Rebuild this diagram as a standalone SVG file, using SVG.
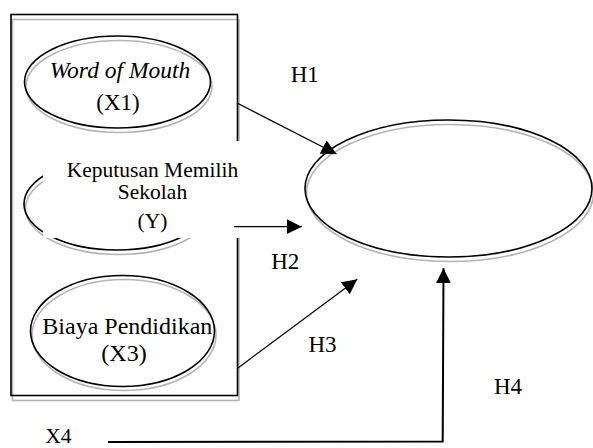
<svg xmlns="http://www.w3.org/2000/svg" width="593" height="448" viewBox="0 0 593 448">
<style>
.t{font-family:"Liberation Serif","Times New Roman",serif;fill:#000;text-anchor:middle}
.ol{fill:none;stroke:#000;stroke-width:1.6}
.sh{fill:none;stroke:#b4b4b4;stroke-width:1.6}
.c1{fill:none;stroke:#000;stroke-width:1.2}
.c2{fill:none;stroke:#000;stroke-width:2}
</style>
<defs>
<marker id="ah" markerUnits="userSpaceOnUse" markerWidth="16" markerHeight="16" refX="15" refY="7.5" orient="auto">
<path d="M0,0 L15,7.5 L0,15 z" fill="#000"/>
</marker>
</defs>
<rect width="593" height="448" fill="#fff"/>

<g id="frame">
<rect class="sh" x="12.5" y="19.5" width="226.5" height="381"/>
<rect class="ol" x="11" y="14.5" width="226.5" height="381"/>
</g>

<g id="x1">
<ellipse class="sh" cx="119" cy="86.5" rx="93" ry="46"/>
<ellipse class="ol" cx="117.5" cy="82" rx="93" ry="46"/>
<text class="t" x="120" y="78" font-size="23.5" font-style="italic">Word of Mouth</text>
<text class="t" x="118" y="110" font-size="23">(X1)</text>
</g>

<g id="y">
<ellipse class="sh" cx="118.5" cy="208.5" rx="93" ry="46"/>
<ellipse class="ol" cx="117" cy="204" rx="93" ry="46"/>
<rect x="43" y="141" width="198" height="97" fill="#fff"/>
<text class="t" x="152.5" y="176.5" font-size="21.5">Keputusan Memilih</text>
<text class="t" x="152.5" y="199" font-size="21.5">Sekolah</text>
<text class="t" x="152.5" y="227.5" font-size="21.5">(Y)</text>
</g>

<g id="x3">
<ellipse class="sh" cx="124" cy="335" rx="92" ry="55.5"/>
<ellipse class="ol" cx="122.5" cy="331" rx="92" ry="55.5"/>
<text class="t" x="127.3" y="334.2" font-size="24">Biaya Pendidikan</text>
<text class="t" x="124" y="361" font-size="24">(X3)</text>
</g>

<g id="target">
<ellipse class="sh" cx="450" cy="193" rx="143.5" ry="68.5"/>
<ellipse class="ol" cx="448.5" cy="188.5" rx="143.5" ry="68.5"/>
</g>

<g id="x4">
<text class="t" x="58.3" y="442.5" font-size="21.5">X4</text>
</g>

<g id="connectors">
<line class="c1" x1="237" y1="103" x2="336.5" y2="154" marker-end="url(#ah)"/>
<line class="c1" x1="234" y1="226.7" x2="301.7" y2="226.7" marker-end="url(#ah)"/>
<line class="c1" x1="238" y1="368" x2="357.3" y2="279.3" marker-end="url(#ah)"/>
<polyline class="c2" points="108,442 442.7,441.5 443.5,268.3" marker-end="url(#ah)"/>
<text class="t" x="304.7" y="82" font-size="23">H1</text>
<text class="t" x="285.3" y="268.5" font-size="23">H2</text>
<text class="t" x="322.5" y="352" font-size="23">H3</text>
<text class="t" x="508" y="393.5" font-size="23">H4</text>
</g>
</svg>
